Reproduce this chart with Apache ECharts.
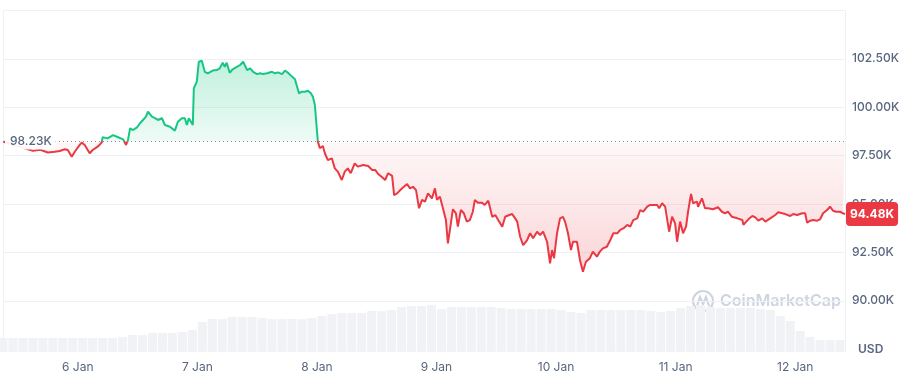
<!DOCTYPE html>
<html>
<head>
<meta charset="utf-8">
<script src="https://cdn.jsdelivr.net/npm/echarts@6/dist/echarts.min.js"></script>
<style>
html,body{margin:0;padding:0;background:#fff;}
#chart{width:904px;height:380px;}
</style>
</head>
<body>
<div id="chart"></div>
<script>
// hours since 5 Jan 00:00
const hours = [9,11,13,15,16.5,18.0,18.4,19.4,20.4,21.4,22.0,22.8,23.4,24.4,24.8,25.4,26.4,27.0,28.0,28.8,29.0,30.0,31.1,32.1,33.1,33.7,34.1,34.5,35.1,35.9,36.5,37.1,37.7,38.1,38.9,39.5,40.1,40.9,41.5,42.5,43.5,44.1,44.9,45.5,45.9,46.3,47.1,47.3,47.9,48.3,48.9,49.1,49.5,50.1,50.5,51.1,51.9,52.5,53.1,53.5,53.9,54.5,55.1,56.0,56.6,57.2,58.0,58.6,59.2,60.0,60.6,61.2,62.0,63.0,63.6,64.2,65.0,65.6,66.2,67.0,67.6,68.0,68.4,69.0,69.6,70.2,70.8,71.2,71.6,72.0,72.2,72.6,73.2,73.6,74.2,75.0,75.6,76.2,77.0,77.6,78.2,78.8,79.6,80.2,81.3,82.3,83.1,83.7,84.3,85.1,85.7,86.3,87.1,87.5,88.1,89.1,90.1,90.7,91.3,91.9,92.5,93.1,93.7,94.3,95.1,95.7,96.1,96.7,97.3,97.9,98.3,98.7,99.3,99.9,100.3,100.9,101.5,102.1,102.7,103.3,103.7,104.3,105.1,105.7,106.4,107.2,107.8,108.4,109.2,109.8,110.6,111.2,111.8,112.2,112.8,113.4,114.2,114.8,115.4,116.2,116.8,117.4,118.2,118.8,119.2,119.6,120.2,120.8,121.4,121.8,122.4,123.0,123.4,124.2,124.8,125.4,126.0,126.8,127.4,128.2,128.8,129.4,130.2,130.9,131.5,132.3,132.9,133.5,134.3,134.9,135.5,136.3,136.9,137.5,138.3,138.9,139.5,140.3,140.7,141.3,141.9,142.7,143.3,143.9,144.3,144.9,145.5,146.1,146.5,147.1,147.5,148.3,148.5,149.3,149.9,150.5,151.5,152.5,153.3,153.9,154.5,155.3,156.4,157.4,157.6,158.6,159.4,160.0,160.6,161.4,162.0,163.0,164.0,164.6,165.4,166.0,167.0,167.6,168.4,169.4,170.0,170.4,171.0,171.6,172.4,173.0,173.6,174.4,175.0,175.6,176.2,177.0,177.6,178.0];
// price, thousands of USD
const prices = [98.23,98.05,97.90,97.75,97.80,97.66,97.65,97.70,97.74,97.83,97.79,97.44,97.70,98.05,98.17,98.05,97.62,97.79,97.96,98.17,98.45,98.39,98.56,98.45,98.34,98.05,98.31,98.91,98.82,98.96,99.17,99.34,99.51,99.77,99.51,99.43,99.34,99.43,99.08,98.99,98.79,99.25,99.43,99.43,99.08,99.43,99.08,100.98,101.32,102.35,102.40,102.40,101.83,101.75,101.66,101.89,101.92,102.01,102.30,102.09,102.30,101.78,101.96,102.09,102.18,102.35,101.92,102.01,101.83,101.71,101.75,101.71,101.75,101.83,101.75,101.80,101.71,101.89,101.78,101.58,101.44,101.37,100.72,100.80,100.80,100.85,100.72,100.54,100.11,98.82,98.22,97.88,98.00,97.62,97.27,97.36,96.84,96.67,96.24,96.67,96.84,96.59,97.10,96.93,97.01,96.96,96.76,96.76,96.55,96.38,96.24,96.59,96.45,95.46,95.55,95.81,96.03,95.81,95.89,95.72,94.78,95.21,95.12,95.55,95.29,95.81,95.21,95.38,94.78,94.17,92.97,93.66,94.73,94.52,93.83,94.69,94.52,94.09,94.17,94.60,95.21,95.07,95.07,94.95,95.17,94.34,94.43,94.17,93.83,94.34,94.43,94.48,94.26,94.09,93.31,92.88,93.14,93.49,93.23,93.57,93.40,93.57,93.05,91.94,92.62,92.20,93.49,94.26,94.34,94.09,93.49,92.62,93.05,93.05,92.11,91.50,92.02,92.20,92.54,92.28,92.54,92.71,92.79,93.14,93.49,93.49,93.66,93.74,93.92,93.83,94.17,94.26,94.69,94.60,94.86,94.95,94.95,94.95,94.78,95.04,94.86,93.57,94.34,94.00,93.05,94.09,93.49,93.83,94.60,95.52,95.04,95.12,94.86,95.29,94.78,94.78,94.73,94.83,94.60,94.52,94.60,94.34,94.26,94.17,93.92,94.21,94.38,94.31,94.14,94.26,94.09,94.26,94.43,94.57,94.52,94.48,94.38,94.48,94.43,94.52,94.52,94.03,94.14,94.17,94.14,94.21,94.52,94.69,94.86,94.65,94.60,94.60,94.52,94.48];
const baseline = 98.23;
// two-hourly volume (relative units), starting 5 Jan 09:00
const volume = [14,14,14,14,14,14,14,14,14,14,14,14,15,17,17,19,19,19,20,22,30,33,33,35,35,35,34,33,33,33,33,34,36,38,39,39,39,41,41,42,45,46,46,47,43,45,45,45,45,45,44,43,43,43,43,43,42,40,39,42,42,42,42,42,42,41,40,41,44,46,47,45,44,44,44,44,43,42,36,31,21,15,12,12,12];
const volStartHour = 9;
const dayTicks = [24,48,72,96,120,144,168];
const dayLabels = ['6 Jan','7 Jan','8 Jan','9 Jan','10 Jan','11 Jan','12 Jan'];

const GREEN = '#16c784', RED = '#ea3943';
const priceData = hours.map((h,i)=>[h, prices[i]]);
const upData = hours.map((h,i)=>[h, Math.max(prices[i], baseline)]);
const downData = hours.map((h,i)=>[h, Math.min(prices[i], baseline)]);
const volData = volume.map((v,i)=>[volStartHour + 2*i, v]);
const last = prices[prices.length-1];

const chart = echarts.init(document.getElementById('chart'), null, {renderer:'canvas'});
const fontFamily = 'Inter, "Noto Sans", sans-serif';
chart.setOption({
  animation:false,
  textStyle:{fontFamily},
  grid:[
    {left:3, right:59, top:10.4, bottom:30.8},
    {left:3, right:59, top:292, bottom:28}
  ],
  xAxis:[
    {type:'value', gridIndex:0, min:9, max:178, show:false, splitLine:{show:false}},
    {type:'value', gridIndex:1, min:9, max:178,
     axisLine:{show:false}, axisTick:{show:false}, splitLine:{show:false},
     axisLabel:{customValues:dayTicks, color:'#58667e', fontSize:12, margin:9,
       formatter:(v)=>dayLabels[dayTicks.indexOf(v)] || ''}}
  ],
  yAxis:[
    {type:'value', gridIndex:0, position:'right', min:87.5, max:105, interval:2.5,
     axisLine:{show:true, lineStyle:{color:'#eff2f5'}}, axisTick:{show:false},
     splitLine:{lineStyle:{color:'#eff2f5'}},
     axisLabel:{showMinLabel:false, showMaxLabel:false, color:'#58667e', fontSize:12, fontWeight:500, margin:7,
       formatter:(v)=>v.toFixed(2)+'K'}},
    {type:'value', gridIndex:0, position:'left', min:87.5, max:105,
     axisLine:{show:true, lineStyle:{color:'#eff2f5'}}, axisTick:{show:false}, axisLabel:{show:false}, splitLine:{show:false}},
    {type:'value', gridIndex:1, position:'right', min:0, max:60,
     axisLine:{show:true, lineStyle:{color:'#eff2f5'}}, axisTick:{show:false}, axisLabel:{show:false}, splitLine:{show:false}}
  ],
  visualMap:{type:'piecewise', show:false, seriesIndex:0, dimension:1,
    pieces:[{gt:80, lt:baseline, color:RED},{gte:baseline, lt:120, color:GREEN}]},
  series:[
    {id:'price', type:'line', xAxisIndex:0, yAxisIndex:0, data:priceData, symbol:'none', z:4,
     lineStyle:{width:2}},
    {id:'up', type:'line', xAxisIndex:0, yAxisIndex:0, data:upData, symbol:'none', z:3,
     lineStyle:{width:0, opacity:0}, itemStyle:{color:GREEN},
     areaStyle:{origin:baseline, color:new echarts.graphic.LinearGradient(0,0,0,1,[
       {offset:0, color:'rgba(22,199,132,0.38)'},{offset:1, color:'rgba(22,199,132,0.10)'}])},
     markLine:{silent:true, symbol:'none', animation:false, z:10,
       lineStyle:{color:'#8e95a2', type:[1,3], width:1},
       label:{position:'insideStart', distance:2, formatter:baseline.toFixed(2)+'K', color:'#58667e', fontSize:12, fontWeight:500,
         backgroundColor:'rgba(255,255,255,0.92)', padding:[2,4,2,5]},
       data:[{yAxis:baseline}]}},
    {id:'down', type:'line', xAxisIndex:0, yAxisIndex:0, data:downData, symbol:'none', z:3,
     lineStyle:{width:0, opacity:0}, itemStyle:{color:RED},
     areaStyle:{origin:baseline, color:new echarts.graphic.LinearGradient(0,0,0,1,[
       {offset:0, color:'rgba(234,57,67,0.05)'},{offset:1, color:'rgba(234,57,67,0.30)'}])},
     markLine:{silent:true, symbol:'none', animation:false, z:10,
       lineStyle:{color:'rgba(0,0,0,0)', width:0},
       label:{position:'end', distance:1, formatter:last.toFixed(2)+'K', color:'#fff', fontSize:12, fontWeight:'bold',
         backgroundColor:RED, padding:[6,4,6,4], borderRadius:4},
       data:[{yAxis:last}]}},
    {id:'vol', type:'bar', xAxisIndex:1, yAxisIndex:2, data:volData, barWidth:9, z:1,
     itemStyle:{color:'#f0f2f5'}}
  ],
  graphic:[
    {type:'text', left:858, top:343, style:{text:'USD', fill:'#58667e', font:'600 12px '+fontFamily}},
    {type:'circle', shape:{cx:703, cy:301, r:10}, style:{fill:'none', stroke:'#cfd5e0', lineWidth:2.2}},
    {type:'polyline', shape:{points:[[697,306],[700,297],[703,304],[706,297],[709,306]]}, style:{fill:'none', stroke:'#cfd5e0', lineWidth:2.2}},
    {type:'text', left:720, top:293, style:{text:'CoinMarketCap', fill:'#cfd5e0', font:'600 16px '+fontFamily}}
  ]
});
</script>
</body>
</html>
